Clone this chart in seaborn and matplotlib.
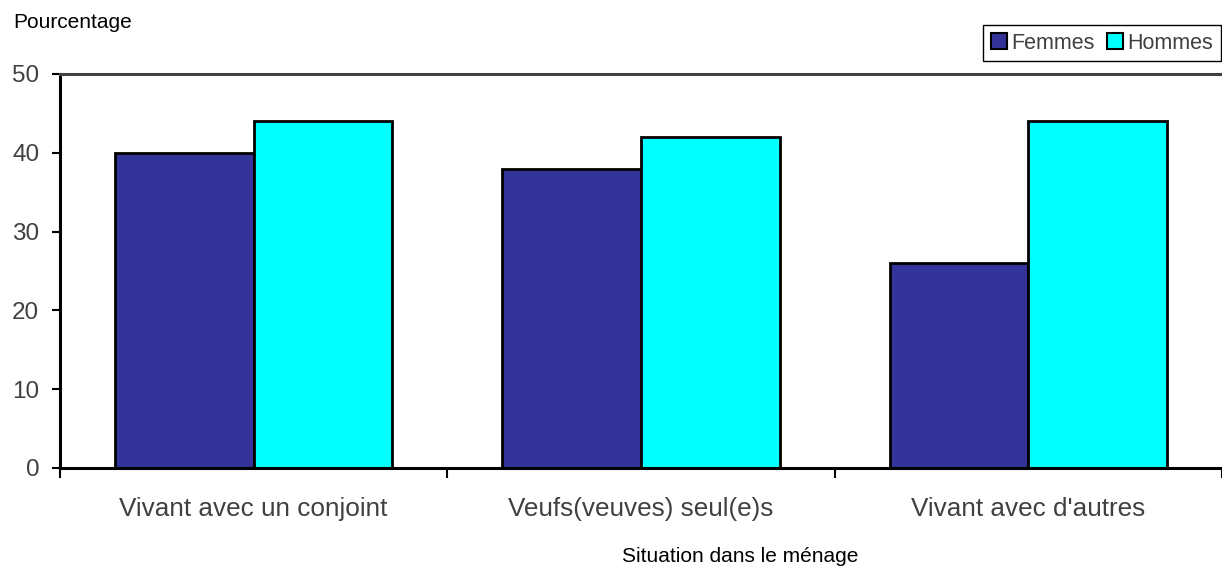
import matplotlib
matplotlib.use("Agg")
import matplotlib.pyplot as plt
from matplotlib.patches import Patch
import seaborn as sns
import pandas as pd

categories = ["Vivant avec un conjoint", "Veufs(veuves) seul(e)s", "Vivant avec d'autres"]
femmes = [40, 38, 26]
hommes = [44, 42, 44]
series_names = ["Femmes", "Hommes"]
colors = ["#333399", "#00FFFF"]
y_ticks = [0, 10, 20, 30, 40, 50]

df = pd.DataFrame({
    "situation": categories * 2,
    "pct": femmes + hommes,
    "sexe": [series_names[0]] * 3 + [series_names[1]] * 3,
})

sns.set_style("white")
plt.rcParams["font.family"] = ["Liberation Sans", "DejaVu Sans"]

fig = plt.figure(figsize=(12.22, 5.69), dpi=100)
ax = fig.add_axes([60 / 1222, 101 / 569, 1 - 60 / 1222, 394 / 569])

sns.barplot(data=df, x="situation", y="pct", hue="sexe", order=categories,
            hue_order=series_names, palette=colors, width=0.716, saturation=1,
            edgecolor="black", linewidth=2, ax=ax, legend=False)

ax.set_xlim(-0.5, 2.5)
ax.set_ylim(0, 50)
ax.set_yticks(y_ticks)
ax.set_xticks(range(len(categories)))
ax.set_xticklabels(categories)
ax.set_xticks([-0.5, 0.5, 1.5, 2.5], minor=True)

ax.tick_params(axis="y", which="major", left=True, length=6, width=1.5,
               color="black", labelsize=17.5, labelcolor="#404040", pad=9)
ax.tick_params(axis="x", which="major", bottom=False, length=0,
               labelsize=18.8, labelcolor="#404040", pad=21)
ax.tick_params(axis="x", which="minor", bottom=True, length=7, width=1.5,
               color="black")

ax.set_xlabel("")
ax.set_ylabel("")
for side in ["left", "bottom"]:
    ax.spines[side].set_color("black")
    ax.spines[side].set_linewidth(2.2)
ax.spines["top"].set_color("#404040")
ax.spines["top"].set_linewidth(2.2)
ax.spines["right"].set_visible(False)
ax.grid(False)

fig.text(13 / 1222, 1 - 22 / 569, "Pourcentage", fontsize=15, color="black",
         ha="left", va="center")
fig.text(740 / 1222, 1 - 556 / 569, "Situation dans le ménage", fontsize=15,
         color="black", ha="center", va="center")

handles = [Patch(facecolor=c, edgecolor="black", linewidth=1.5) for c in colors]
leg = fig.legend(handles, series_names, loc="upper right",
                 bbox_to_anchor=(1221 / 1222, 1 - 25 / 569), ncol=2,
                 fontsize=15.5, frameon=True, fancybox=False, framealpha=1,
                 handlelength=0.75, handleheight=0.75, handletextpad=0.2,
                 columnspacing=0.6, borderpad=0.35, borderaxespad=0)
leg.get_frame().set_edgecolor("black")
leg.get_frame().set_linewidth(1)
for t in leg.get_texts():
    t.set_color("#404040")

fig.savefig("out.png", dpi=100)
